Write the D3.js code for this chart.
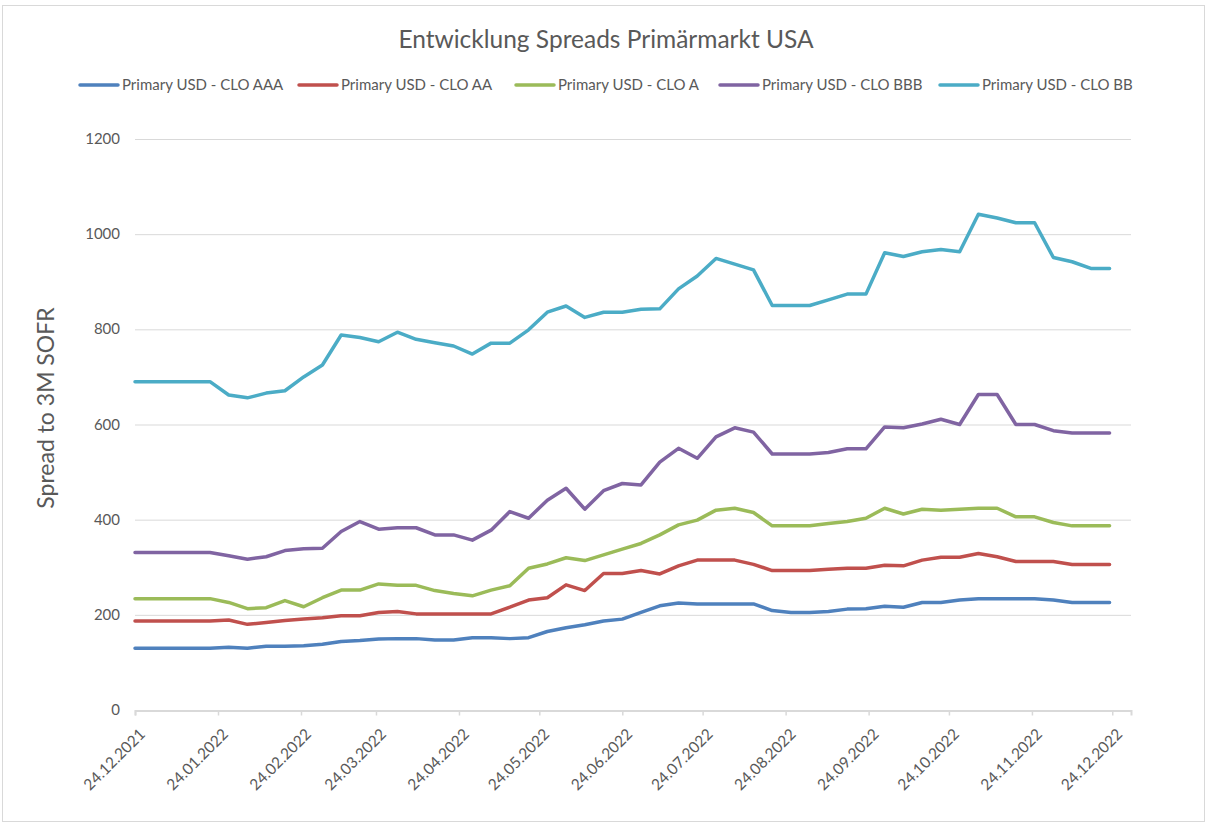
<!DOCTYPE html>
<html>
<head>
<meta charset="utf-8">
<script src="https://cdn.jsdelivr.net/npm/d3@7"></script>
<style>
  body { margin: 0; background: #fff; }
  text { font-family: Lato, "Open Sans", sans-serif; fill: #595959; }
</style>
</head>
<body>
<svg id="chart" width="1209" height="825"></svg>
<script>
// weekly observations, first one on 24.12.2021
var firstDate = new Date(2021, 11, 24);
var weekCount = 53;

var seriesNames = ["Primary USD - CLO AAA", "Primary USD - CLO AA", "Primary USD - CLO A",
                   "Primary USD - CLO BBB", "Primary USD - CLO BB"];
var seriesColors = ["#4f81bd", "#c0504d", "#9bbb59", "#8064a2", "#4bacc6"];

var aaa = [130, 130, 130, 130, 130, 132, 130, 134, 134, 135, 138, 144, 146, 149, 150, 150, 147, 147, 152, 152,
           150, 152, 165, 173, 179, 187, 191, 205, 219, 225, 223, 223, 223, 223, 209, 205, 205, 207, 212, 213,
           218, 216, 226, 226, 231, 234, 234, 234, 234, 231, 226, 226, 226];
var aa = [187, 187, 187, 187, 187, 189, 180, 184, 188, 191, 194, 198, 198, 205, 207, 202, 202, 202, 202, 202,
          216, 231, 236, 263, 251, 287, 287, 293, 286, 303, 315, 315, 315, 306, 293, 293, 293, 296, 298, 298,
          304, 303, 315, 321, 321, 329, 322, 312, 312, 312, 306, 306, 306];
var a = [234, 234, 234, 234, 234, 226, 213, 215, 230, 217, 236, 252, 252, 265, 262, 262, 251, 245, 240, 252,
         261, 298, 307, 320, 314, 326, 338, 350, 368, 389, 399, 420, 424, 415, 387, 387, 387, 392, 396, 403,
         424, 412, 422, 420, 422, 424, 424, 406, 406, 394, 387, 387, 387];
var bbb = [331, 331, 331, 331, 331, 324, 317, 322, 335, 339, 340, 375, 396, 380, 383, 383, 368, 368, 357, 378,
           417, 403, 441, 466, 422, 461, 476, 473, 521, 550, 529, 574, 593, 584, 538, 538, 538, 541, 549, 549,
           595, 593, 601, 611, 600, 663, 663, 600, 600, 587, 582, 582, 582];
var bb = [690, 690, 690, 690, 690, 662, 656, 666, 671, 700, 725, 788, 783, 774, 794, 779, 772, 765, 748, 771,
          771, 799, 836, 849, 825, 836, 836, 842, 843, 885, 912, 949, 937, 925, 850, 850, 850, 862, 874, 874,
          961, 953, 963, 968, 963, 1042, 1034, 1024, 1024, 951, 942, 928, 928];

var yTicks = [0, 200, 400, 600, 800, 1000, 1200];
var xTickLabels = ["24.12.2021", "24.01.2022", "24.02.2022", "24.03.2022", "24.04.2022", "24.05.2022", "24.06.2022",
                   "24.07.2022", "24.08.2022", "24.09.2022", "24.10.2022", "24.11.2022", "24.12.2022"];

var dates = d3.range(weekCount).map(function(i){ return d3.timeDay.offset(firstDate, i * 7); });
var values = [aaa, aa, a, bbb, bb];
var parseTick = d3.timeParse("%d.%m.%Y");

var svg = d3.select("#chart");

// outer frame
svg.append("rect")
   .attr("x", 2.5).attr("y", 5.5)
   .attr("width", 1202).attr("height", 816)
   .attr("fill", "none").attr("stroke", "#d9d9d9");

var x = d3.scaleTime()
    .domain([firstDate, new Date(2022, 11, 31)])
    .range([135, 1131]);
var y = d3.scaleLinear()
    .domain([0, 1200])
    .range([710, 139]);

// gridlines
svg.append("g").selectAll("line")
   .data(yTicks.slice(1))
   .enter().append("line")
   .attr("x1", 135).attr("x2", 1131)
   .attr("y1", function(d){ return y(d) + 0.5; })
   .attr("y2", function(d){ return y(d) + 0.5; })
   .attr("stroke", "#d9d9d9").attr("stroke-width", 1);

// y labels
svg.append("g").selectAll("text")
   .data(yTicks)
   .enter().append("text")
   .attr("x", 120)
   .attr("y", function(d){ return y(d) + 5; })
   .attr("text-anchor", "end")
   .attr("font-size", 15)
   .text(function(d){ return d; });

// x axis
var xAxis = svg.append("g")
    .attr("transform", "translate(0,710.5)")
    .call(d3.axisBottom(x)
        .tickValues(xTickLabels.map(parseTick))
        .tickSize(5)
        .tickFormat(d3.timeFormat("%d.%m.%Y")));
xAxis.select(".domain").attr("stroke", "#d9d9d9").attr("stroke-width", 2);
xAxis.selectAll(".tick line").attr("stroke", "#d9d9d9").attr("stroke-width", 1.5);
xAxis.selectAll(".tick text")
     .attr("font-family", "Lato, sans-serif")
     .attr("font-size", 15.5)
     .attr("fill", "#595959")
     .attr("text-anchor", "end")
     .attr("dy", 0)
     .attr("transform", "translate(5,19) rotate(-45)");

// lines
var line = d3.line()
    .x(function(d, i){ return x(dates[i]); })
    .y(function(d){ return y(d); });

values.forEach(function(s, k){
    svg.append("path")
       .datum(s)
       .attr("d", line)
       .attr("fill", "none")
       .attr("stroke", seriesColors[k])
       .attr("stroke-width", 3.5)
       .attr("stroke-linejoin", "round")
       .attr("stroke-linecap", "round");
});

// title
svg.append("text")
   .attr("x", 606).attr("y", 48)
   .attr("text-anchor", "middle")
   .attr("font-size", 24.5)
   .text("Entwicklung Spreads Primärmarkt USA");

// y axis title
svg.append("text")
   .attr("transform", "translate(54,408) rotate(-90)")
   .attr("text-anchor", "middle")
   .attr("font-size", 23)
   .text("Spread to 3M SOFR");

// legend
var legendX = [78, 297, 514, 718, 938];
var legend = svg.append("g").selectAll("g")
    .data(seriesNames)
    .enter().append("g")
    .attr("transform", function(d, i){ return "translate(" + legendX[i] + ",85)"; });
legend.append("line")
    .attr("x1", 2).attr("x2", 40)
    .attr("stroke", function(d, i){ return seriesColors[i]; })
    .attr("stroke-width", 3.5)
    .attr("stroke-linecap", "round");
legend.append("text")
    .attr("x", 44).attr("y", 5)
    .attr("font-size", 15)
    .text(function(d){ return d; });
</script>
</body>
</html>
